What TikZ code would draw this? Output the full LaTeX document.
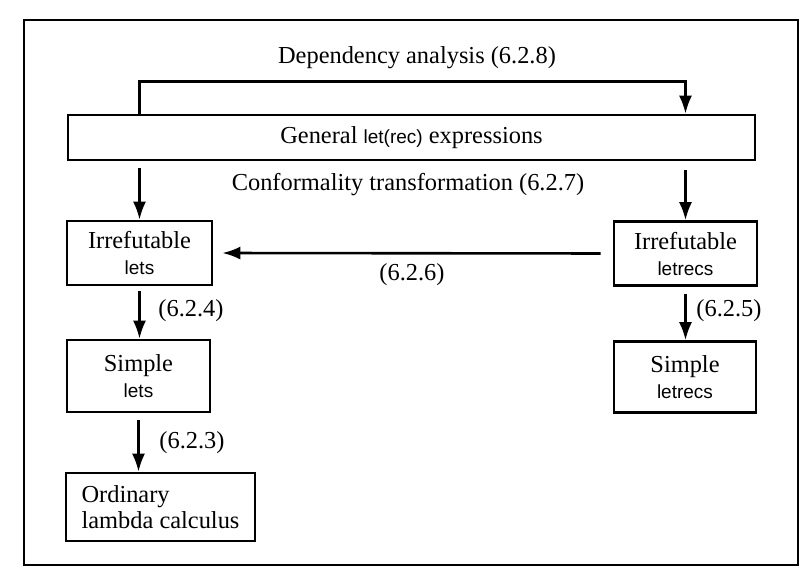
\documentclass[tikz,border=0pt]{standalone}
\usepackage{fontspec}
\setmainfont{Liberation Serif}
\setsansfont{Liberation Sans}
\usetikzlibrary{arrows.meta,positioning}

\newcommand{\kw}[1]{{\sffamily\fontsize{9.5}{13}\selectfont #1}}

\tikzset{
    stage/.style={draw, line width=1.3pt, align=center, inner sep=2pt,
        font=\fontsize{12.2}{13}\selectfont},
    flow/.style={-{Latex[length=9pt,width=6.5pt]}, line width=1.3pt},
    lbl/.style={font=\fontsize{12.2}{13}\selectfont}
}

\begin{document}
\begin{tikzpicture}[x=0.5pt, y=-0.5pt]
    \useasboundingbox (0,0) rectangle (804,573);
    \draw[line width=1.3pt] (24,20) rectangle (798,565);

    % top row
    \node[lbl] (deptext) at (417,58) {Dependency analysis (6.2.8)};
    \node[stage, minimum width=343.5pt, minimum height=22.5pt] (general) at (411.5,137.5)
        {General \kw{let(rec)} expressions};
    \node[lbl] (conftext) at (408,185) {Conformality transformation (6.2.7)};

    % left column
    \node[stage, minimum width=72.5pt, minimum height=32pt] (irrlets) at (139.5,253)
        {Irrefutable\\\kw{lets}};
    \node[stage, minimum width=71.5pt, minimum height=36pt] (simplelets) at (138.5,376)
        {Simple\\\kw{lets}};
    \node[stage, minimum width=94.5pt, minimum height=34pt, align=left] (ordinary) at (160.5,507)
        {Ordinary\\lambda calculus};

    % right column
    \node[stage, minimum width=71.5pt, minimum height=32pt] (irrletrecs) at (685.5,253.5)
        {Irrefutable\\\kw{letrecs}};
    \node[stage, minimum width=71pt, minimum height=35.5pt] (simpleletrecs) at (685,377)
        {Simple\\\kw{letrecs}};

    % labels
    \node[lbl] (l624) at (191,311) {(6.2.4)};
    \node[lbl] (l623) at (192,443) {(6.2.3)};
    \node[lbl] (l625) at (729,311) {(6.2.5)};
    \node[lbl] (l626) at (412,275) {(6.2.6)};

    % arrows
    \draw[flow] (irrlets |- general.north) -- ++(0,-32) -| (irrletrecs |- general.north);
    \draw[flow, shorten <=3.5pt] (irrlets |- general.south) -- (irrlets.north);
    \draw[flow, shorten <=4.5pt] (irrletrecs |- general.south) -- (irrletrecs.north);
    \draw[flow, shorten <=2.5pt] (irrlets.south) -- (irrlets.south |- simplelets.north);
    \draw[flow, shorten <=3.5pt] (simplelets.south) -- (simplelets.south |- ordinary.north);
    \draw[flow, shorten <=3.5pt] (irrletrecs.south) -- (irrletrecs.south |- simpleletrecs.north);
    \draw[flow, shorten <=6pt, shorten >=4.5pt] (irrletrecs.west) -- (irrlets.east);
\end{tikzpicture}
\end{document}
